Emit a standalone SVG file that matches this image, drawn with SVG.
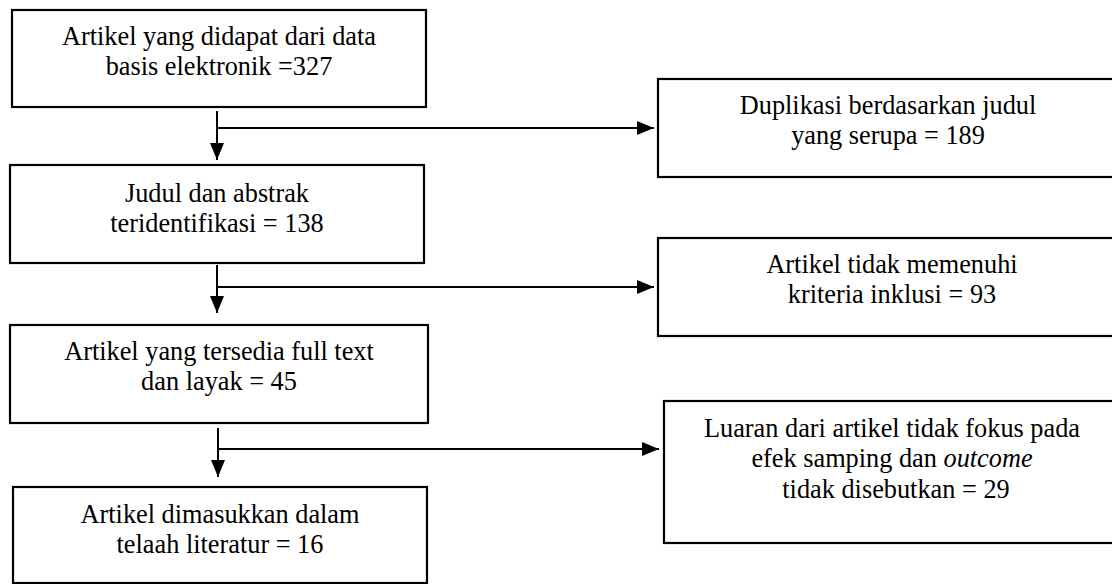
<svg xmlns="http://www.w3.org/2000/svg" width="1112" height="584" viewBox="0 0 1112 584">
<style>
.box{fill:#fff;stroke:#000;stroke-width:2.2}
.t{font-family:'Liberation Serif','Times New Roman','DejaVu Serif',serif;font-size:26.3px;fill:#000;text-anchor:middle}
.c{fill:none;stroke:#000;stroke-width:2}
</style>
<defs>
<marker id="ah" markerUnits="userSpaceOnUse" markerWidth="18" markerHeight="14" refX="17" refY="7" orient="auto">
<path d="M0,0 L17,7 L0,14 Z" fill="#000"/>
</marker>
</defs>
<rect width="1112" height="584" fill="#fff"/>
<g id="n1"><rect class="box" x="12" y="10" width="414" height="97"/>
<text class="t" x="219" y="45">Artikel yang didapat dari data</text>
<text class="t" x="219" y="75">basis elektronik =327</text></g>
<g id="n2"><rect class="box" x="10" y="165" width="414" height="98"/>
<text class="t" x="217" y="202">Judul dan abstrak</text>
<text class="t" x="217" y="232">teridentifikasi = 138</text></g>
<g id="n3"><rect class="box" x="10" y="325" width="418" height="98"/>
<text class="t" x="219" y="360">Artikel yang tersedia full text</text>
<text class="t" x="219" y="390">dan layak = 45</text></g>
<g id="n4"><rect class="box" x="13" y="487" width="414" height="96"/>
<text class="t" x="220" y="523">Artikel dimasukkan dalam</text>
<text class="t" x="220" y="553">telaah literatur = 16</text></g>
<g id="r1"><rect class="box" x="658" y="79" width="470" height="98"/>
<text class="t" x="888" y="114">Duplikasi berdasarkan judul</text>
<text class="t" x="888" y="144">yang serupa = 189</text></g>
<g id="r2"><rect class="box" x="658" y="238" width="470" height="98"/>
<text class="t" x="892" y="273">Artikel tidak memenuhi</text>
<text class="t" x="892" y="303">kriteria inklusi = 93</text></g>
<g id="r3"><rect class="box" x="664" y="401" width="470" height="142"/>
<text class="t" x="892" y="437">Luaran dari artikel tidak fokus pada</text>
<text class="t" x="892" y="467">efek samping dan <tspan font-style="italic">outcome</tspan></text>
<text class="t" x="896" y="498">tidak disebutkan = 29</text></g>
<g id="connectors">
<line class="c" x1="217" y1="111" x2="217" y2="160" marker-end="url(#ah)"/>
<line class="c" x1="217" y1="128" x2="654" y2="128" marker-end="url(#ah)"/>
<line class="c" x1="217" y1="265" x2="217" y2="313" marker-end="url(#ah)"/>
<line class="c" x1="217" y1="287" x2="654" y2="287" marker-end="url(#ah)"/>
<line class="c" x1="218" y1="428" x2="218" y2="477" marker-end="url(#ah)"/>
<line class="c" x1="218" y1="449" x2="659" y2="449" marker-end="url(#ah)"/>
</g>
</svg>
